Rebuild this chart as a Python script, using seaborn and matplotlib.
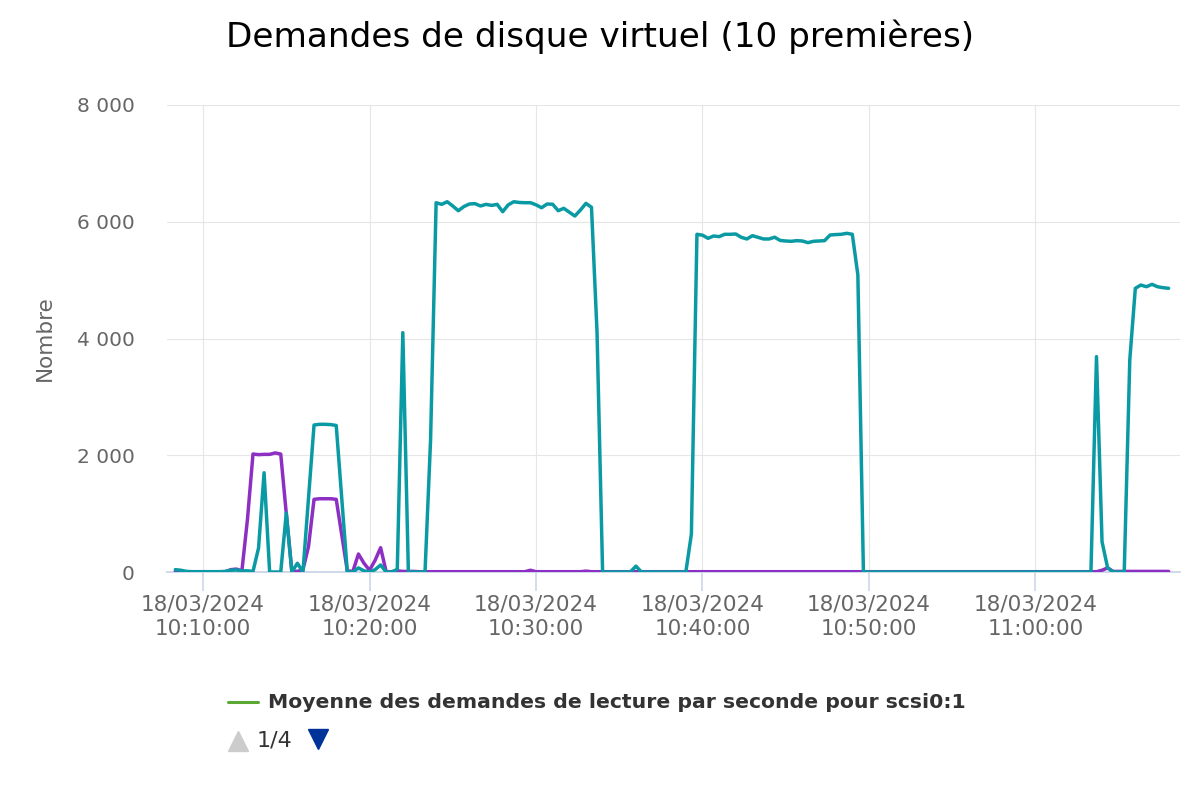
import matplotlib
matplotlib.use("Agg")
import matplotlib.pyplot as plt
import matplotlib.dates as mdates
import matplotlib.ticker as mticker
from matplotlib.lines import Line2D
import numpy as np
import pandas as pd
import seaborn as sns

# ---------------- data ----------------
start_time = "2024-03-18 10:08:20"
step = "20s"
n_points = 180

teal_values = [
    40, 30, 10, 5, 5, 5, 5, 5, 5, 10,
    30, 35, 20, 20, 10, 410, 1700, 0, 0, 0,
    1010, 0, 150, 0, 1260, 2518, 2530, 2530, 2525, 2510,
    1250, 0, 0, 70, 20, 0, 40, 120, 0, 0,
    46, 4100, 0, 0, 0, 0, 2260, 6326, 6298, 6343,
    6270, 6189, 6260, 6304, 6310, 6270, 6298, 6280, 6298, 6172,
    6290, 6343, 6330, 6326, 6326, 6290, 6240, 6304, 6300, 6189,
    6230, 6165, 6098, 6200, 6315, 6247, 4100, 0, 0, 0,
    0, 0, 0, 100, 0, 0, 0, 0, 0, 0,
    0, 0, 0, 650, 5785, 5770, 5716, 5756, 5745, 5785,
    5785, 5790, 5733, 5705, 5761, 5733, 5705, 5705, 5735, 5680,
    5670, 5665, 5676, 5670, 5642, 5665, 5670, 5676, 5773, 5780,
    5785, 5802, 5785, 5090, 0, 0, 0, 0, 0, 0,
    0, 0, 0, 0, 0, 0, 0, 0, 0, 0,
    0, 0, 0, 0, 0, 0, 0, 0, 0, 0,
    0, 0, 0, 0, 0, 0, 0, 0, 0, 0,
    0, 0, 0, 0, 0, 0, 3689, 519, 75, 0,
    0, 0, 3632, 4860, 4916, 4887, 4928, 4887, 4870, 4860,
]

purple_values = [
    5, 5, 5, 5, 5, 5, 5, 5, 5, 5,
    40, 50, 20, 900, 2021, 2010, 2015, 2015, 2040, 2020,
    1000, 20, 10, 40, 433, 1245, 1255, 1255, 1255, 1245,
    630, 20, 10, 308, 150, 30, 200, 416, 5, 5,
    20, 10, 10, 10, 5, 5, 5, 5, 5, 5,
    5, 5, 5, 5, 5, 5, 5, 5, 5, 5,
    5, 5, 5, 5, 30, 5, 5, 5, 5, 5,
    5, 5, 5, 5, 15, 5, 5, 5, 5, 5,
    5, 5, 5, 5, 5, 5, 5, 5, 5, 5,
    5, 5, 5, 5, 5, 5, 5, 5, 5, 5,
    5, 5, 5, 5, 5, 5, 5, 5, 5, 5,
    5, 5, 5, 5, 5, 5, 5, 5, 5, 5,
    5, 5, 5, 5, 5, 5, 5, 5, 5, 5,
    5, 5, 5, 5, 5, 5, 5, 5, 5, 5,
    5, 5, 5, 5, 5, 5, 5, 5, 5, 5,
    5, 5, 5, 5, 5, 5, 5, 5, 5, 5,
    5, 5, 5, 5, 5, 5, 5, 30, 70, 10,
    10, 10, 10, 10, 10, 10, 10, 10, 10, 10,
]

green_values = [0] * n_points

series_names = [
    "Moyenne des demandes de lecture par seconde pour scsi0:1",
    "Série 2",
    "Série 3",
]
series_colors = ["#5aa832", "#8e2fc4", "#0a9aa4"]

title_text = "Demandes de disque virtuel (10 premières)"
y_label = "Nombre"
y_ticks = [0, 2000, 4000, 6000, 8000]
page_text = "1/4"

# ---------------- build frame ----------------
times = pd.date_range(start_time, periods=n_points, freq=step)
frames = []
for name, vals in zip(series_names, [green_values, purple_values, teal_values]):
    frames.append(pd.DataFrame({"time": times, "value": vals, "series": name}))
df = pd.concat(frames, ignore_index=True)

# ---------------- style ----------------
sns.set_theme(style="white")
plt.rcParams["font.family"] = ["DejaVu Sans"]

W, H = 1200, 800
fig = plt.figure(figsize=(12, 8), dpi=100)
left, right, top, bottom = 166.7, 1180, 105, 572
ax = fig.add_axes([left / W, 1 - bottom / H, (right - left) / W, (bottom - top) / H])

# zero-valued first series (lies under the axis line)
sns.lineplot(
    data=df[df["series"] == series_names[0]], x="time", y="value",
    color=series_colors[0], linewidth=1.0, legend=False, ax=ax,
    estimator=None, sort=False, zorder=0.3,
)
sns.lineplot(
    data=df[df["series"] != series_names[0]], x="time", y="value", hue="series",
    hue_order=series_names[1:], palette=series_colors[1:],
    linewidth=2.5, legend=False, ax=ax, estimator=None, sort=False,
)

# axis limits
ax.set_xlim(pd.Timestamp("2024-03-18 10:07:49"), pd.Timestamp("2024-03-18 11:08:41"))
ax.set_ylim(0, 8000)

# grid
ax.set_yticks(y_ticks)
ax.yaxis.set_major_formatter(mticker.FuncFormatter(lambda v, p: f"{int(v):,}".replace(",", " ")))
ax.xaxis.set_major_locator(mdates.MinuteLocator(byminute=[0, 10, 20, 30, 40, 50]))
ax.xaxis.set_major_formatter(mdates.DateFormatter("%d/%m/%Y\n%H:%M:%S"))
ax.grid(True, color="#e6e6e6", linewidth=0.8)
ax.set_axisbelow(True)

for s in ["top", "right", "left"]:
    ax.spines[s].set_visible(False)
ax.spines["bottom"].set_color("#ccd6eb")
ax.spines["bottom"].set_linewidth(1.3)
ax.spines["bottom"].set_zorder(0.5)

ax.tick_params(axis="x", length=14, width=1.2, color="#ccd6eb", pad=2,
               labelsize=15.5, labelcolor="#666666", direction="out", bottom=True)
ax.tick_params(axis="y", length=0, pad=23, labelsize=14.5, labelcolor="#666666")
for lbl in ax.get_xticklabels():
    lbl.set_linespacing(1.3)

ax.set_xlabel("")
ax.set_ylabel(y_label, fontsize=15.5, color="#666666")
ax.yaxis.set_label_coords((55 - left) / (right - left), 0.5)

# title
fig.text(0.5, 1 - 37 / H, title_text, ha="center", va="center",
         fontsize=24.7, color="#000000")

# legend (manual, Highcharts style)
fig.add_artist(Line2D([228 / W, 258 / W], [1 - 702 / H, 1 - 702 / H],
                      color=series_colors[0], linewidth=2.2, transform=fig.transFigure))
fig.text(268 / W, 1 - 702 / H, series_names[0], ha="left", va="center",
         fontsize=14.7, fontweight="bold", color="#333333")

fig.add_artist(Line2D([238 / W], [1 - 741 / H], marker="^", markersize=15,
                      color="#cccccc", linestyle="none", transform=fig.transFigure))
fig.text(257 / W, 1 - 740 / H, page_text, ha="left", va="center",
         fontsize=16, color="#333333")
fig.add_artist(Line2D([318 / W], [1 - 739 / H], marker="v", markersize=15,
                      color="#003399", linestyle="none", transform=fig.transFigure))

fig.savefig("out.png", dpi=100)
